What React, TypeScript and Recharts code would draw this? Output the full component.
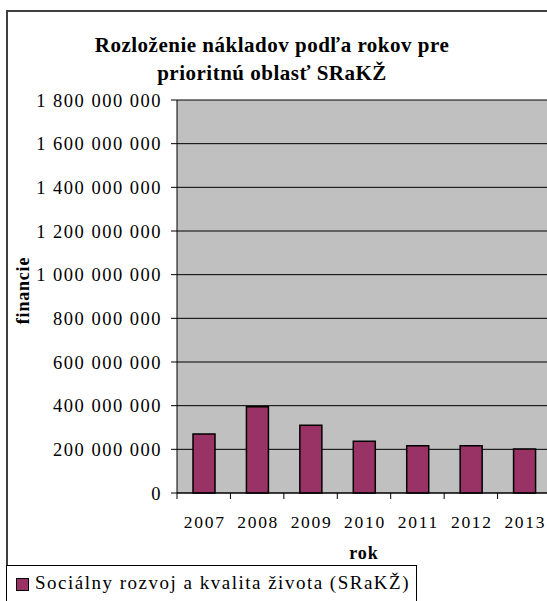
import React from 'react';
import { BarChart, Bar, XAxis, YAxis, CartesianGrid } from 'recharts';

// years on the category axis
const years = ['2007', '2008', '2009', '2010', '2011', '2012', '2013'];
// costs per year (EUR)
const costs = [270000000, 395000000, 310000000, 237000000, 216000000, 216000000, 201000000];
const yTicks = [0, 200000000, 400000000, 600000000, 800000000, 1000000000, 1200000000, 1400000000, 1600000000, 1800000000];
const seriesName = 'Sociálny rozvoj a kvalita života (SRaKŽ)';
const titleLines = ['Rozloženie nákladov podľa rokov pre', 'prioritnú oblasť SRaKŽ'];
const xTitle = 'rok';
const yTitle = 'financie';

const data = years.map((y, i) => ({ year: y, value: costs[i] }));

const FONT = '"Liberation Serif", "DejaVu Serif", serif';
const BAR_COLOR = '#993366';

const fmt = (v: number) => v.toString().replace(/\B(?=(\d{3})+(?!\d))/g, ' ');

const CHART_W = 600;
const PLOT_LEFT = 177;
const PLOT_RIGHT = 551;
const BAND = (PLOT_RIGHT - PLOT_LEFT) / years.length;

const YearTick = (props: any) => {
    const { x, y, payload } = props;
    return (
        <g>
            <line x1={x - BAND / 2} x2={x - BAND / 2} y1={y} y2={y + 6} stroke="#000" />
            <text x={x + 1} y={y + 35} textAnchor="middle" fontSize={17.5} letterSpacing={1.7} fill="#000" fontFamily={FONT}>
                {payload.value}
            </text>
        </g>
    );
};

// y axis title, centred on the plot height
const YTitle = (props: any) => {
    const { viewBox } = props;
    const cy = viewBox.y + viewBox.height / 2 - 6;
    const cx = 29;
    return (
        <text x={cx} y={cy} transform={`rotate(-90, ${cx}, ${cy})`} textAnchor="middle" fontWeight="bold" fontSize={18} letterSpacing={0.8} fill="#000" fontFamily={FONT}>
            {yTitle}
        </text>
    );
};

export default function App() {
    return (
        <div style={{ position: 'absolute', left: 0, top: 0, width: 547, height: 601, overflow: 'hidden', background: '#fff', fontFamily: FONT }}>
            <div style={{ position: 'absolute', left: 6, top: 10, width: 620, height: 700, border: '2px solid #404040' }} />
            <div style={{ position: 'absolute', left: 0, top: 31, width: 544, textAlign: 'center', fontWeight: 'bold', fontSize: 21, letterSpacing: 0.5, lineHeight: '28px', color: '#000' }}>
                {titleLines.map((t) => (
                    <div key={t}>{t}</div>
                ))}
            </div>
            <div style={{ position: 'absolute', left: 0, top: 0 }}>
                <BarChart width={CHART_W} height={601} data={data} margin={{ top: 100, right: CHART_W - PLOT_RIGHT, left: 0, bottom: 0 }}>
                    <CartesianGrid vertical={false} stroke="#000" fill="#C0C0C0" fillOpacity={1} />
                    <XAxis
                        dataKey="year"
                        height={108}
                        tickSize={0}
                        tickMargin={0}
                        tickLine={false}
                        axisLine={{ stroke: '#000' }}
                        tick={<YearTick />}
                        interval={0}
                        label={{ value: xTitle, position: 'insideBottom', offset: 42, fontWeight: 'bold', fontSize: 18, letterSpacing: 1, fill: '#000', fontFamily: FONT }}
                    />
                    <YAxis
                        width={PLOT_LEFT}
                        domain={[0, 1800000000]}
                        ticks={yTicks}
                        interval={0}
                        tickFormatter={fmt}
                        tickSize={6}
                        tickMargin={9}
                        tickLine={{ stroke: '#000' }}
                        axisLine={{ stroke: '#000' }}
                        tick={{ fontSize: 18.5, fill: '#000', fontFamily: FONT, letterSpacing: 1.5 }}
                        label={<YTitle />}
                    />
                    <Bar dataKey="value" name={seriesName} fill={BAR_COLOR} stroke="#000" strokeWidth={1.5} barSize={22} isAnimationActive={false} />
                </BarChart>
            </div>
            <div style={{ position: 'absolute', left: 6, top: 565, width: 409, height: 60, border: '1px solid #000', background: '#fff' }}>
                <div style={{ position: 'absolute', left: 9, top: 12, width: 11, height: 11, background: BAR_COLOR, border: '1px solid #000' }} />
                <div style={{ position: 'absolute', left: 28, top: 4, fontSize: 19, letterSpacing: 1.5, lineHeight: '26px', color: '#000', whiteSpace: 'nowrap' }}>{seriesName}</div>
            </div>
        </div>
    );
}
